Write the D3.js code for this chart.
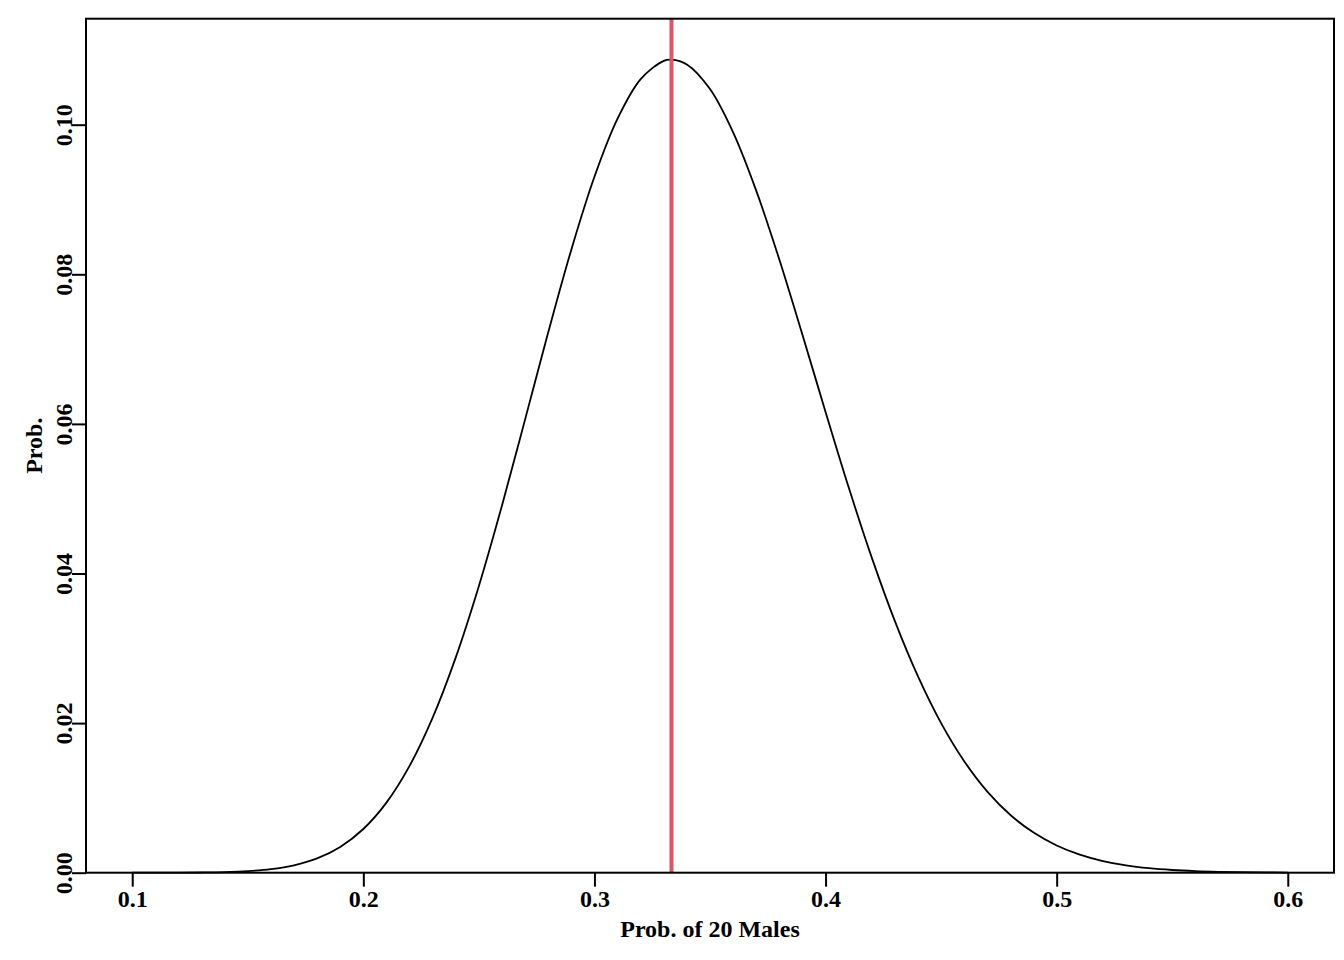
<!DOCTYPE html>
<html><head><meta charset="utf-8">
<script src="https://cdn.jsdelivr.net/npm/d3@7"></script>
<style>body{margin:0;background:#fff}svg{display:block}text{font-family:"Liberation Serif","Times New Roman",serif;font-weight:bold}</style>
</head><body>
<script>
const pVals = [0.10,0.11,0.12,0.13,0.14,0.15,0.16,0.17,0.18,0.19,0.20,0.21,0.22,0.23,0.24,0.25,0.26,0.27,0.28,0.29,0.30,0.31,0.32,0.33,0.3333,0.34,0.35,0.36,0.37,0.38,0.39,0.40,0.41,0.42,0.43,0.44,0.45,0.46,0.47,0.48,0.49,0.50,0.51,0.52,0.53,0.54,0.55,0.56,0.57,0.58,0.59,0.60];
const probVals = [0.000001,0.000003,0.00001,0.00003,0.000084,0.000209,0.000474,0.000987,0.001907,0.003441,0.005842,0.009367,0.014273,0.020726,0.028782,0.038333,0.049097,0.060605,0.072238,0.083296,0.093036,0.100805,0.106088,0.10854,0.10870,0.10805,0.10476,0.09898,0.09119,0.08197,0.07191,0.0616,0.05152,0.04212,0.03363,0.02624,0.02,0.0149,0.010847,0.007713,0.005358,0.003636,0.002408,0.001557,0.000981,0.000603,0.000362,0.00021,0.00012,0.00007,0.00004,0.00002];
const xTicks = [0.1,0.2,0.3,0.4,0.5,0.6];
const yTicks = [0.00,0.02,0.04,0.06,0.08,0.10];
const markP = 1/3;
const xTitle = "Prob. of 20 Males", yTitle = "Prob.";

const W=1344,H=960, L=86,R=1334,T=18.7,B=872.7;
const FS=24;
const svg=d3.select("body").append("svg").attr("width",W).attr("height",H);
const x=d3.scaleLinear().domain([0.08,0.62]).range([L,R]);
const y=d3.scaleLinear().domain([0,0.11417]).range([B,T]);

const data=pVals.map((p,i)=>[p,probVals[i]]);
svg.append("path").datum(data).attr("fill","none").attr("stroke","#000").attr("stroke-width",1.8)
  .attr("d",d3.line().x(d=>x(d[0])).y(d=>y(d[1])).curve(d3.curveCatmullRom.alpha(0.5)));

svg.append("line").attr("x1",x(markP)).attr("x2",x(markP)).attr("y1",T).attr("y2",B)
  .attr("stroke","#DF536B").attr("stroke-width",4);

svg.append("rect").attr("x",L).attr("y",T).attr("width",R-L).attr("height",B-T)
  .attr("fill","none").attr("stroke","#000").attr("stroke-width",2);

const xa=svg.append("g").attr("transform",`translate(0,${B})`)
  .call(d3.axisBottom(x).tickValues(xTicks).tickFormat(d3.format(".1f")).tickSize(14).tickSizeOuter(0));
xa.select(".domain").remove();
xa.selectAll("line").attr("stroke-width",2);
xa.selectAll("text").attr("font-size",FS).attr("font-family","Liberation Serif").attr("font-weight","bold").attr("fill","#000").attr("y",34).attr("dy",null);

const ya=svg.append("g").attr("transform",`translate(${L},0)`)
  .call(d3.axisLeft(y).tickValues(yTicks).tickFormat(d3.format(".2f")).tickSize(14).tickSizeOuter(0));
ya.select(".domain").remove();
ya.selectAll("line").attr("stroke-width",2);
ya.selectAll("text").attr("font-size",FS).attr("font-family","Liberation Serif").attr("font-weight","bold").attr("fill","#000")
  .attr("x",null).attr("dy",null).attr("text-anchor","middle").attr("transform","translate(-14,0) rotate(-90)");

svg.append("text").attr("x",(L+R)/2).attr("y",937).attr("text-anchor","middle").attr("font-size",FS).text(xTitle);
svg.append("text").attr("transform",`translate(42,${(T+B)/2}) rotate(-90)`).attr("text-anchor","middle").attr("font-size",FS).text(yTitle);
</script>
</body></html>
